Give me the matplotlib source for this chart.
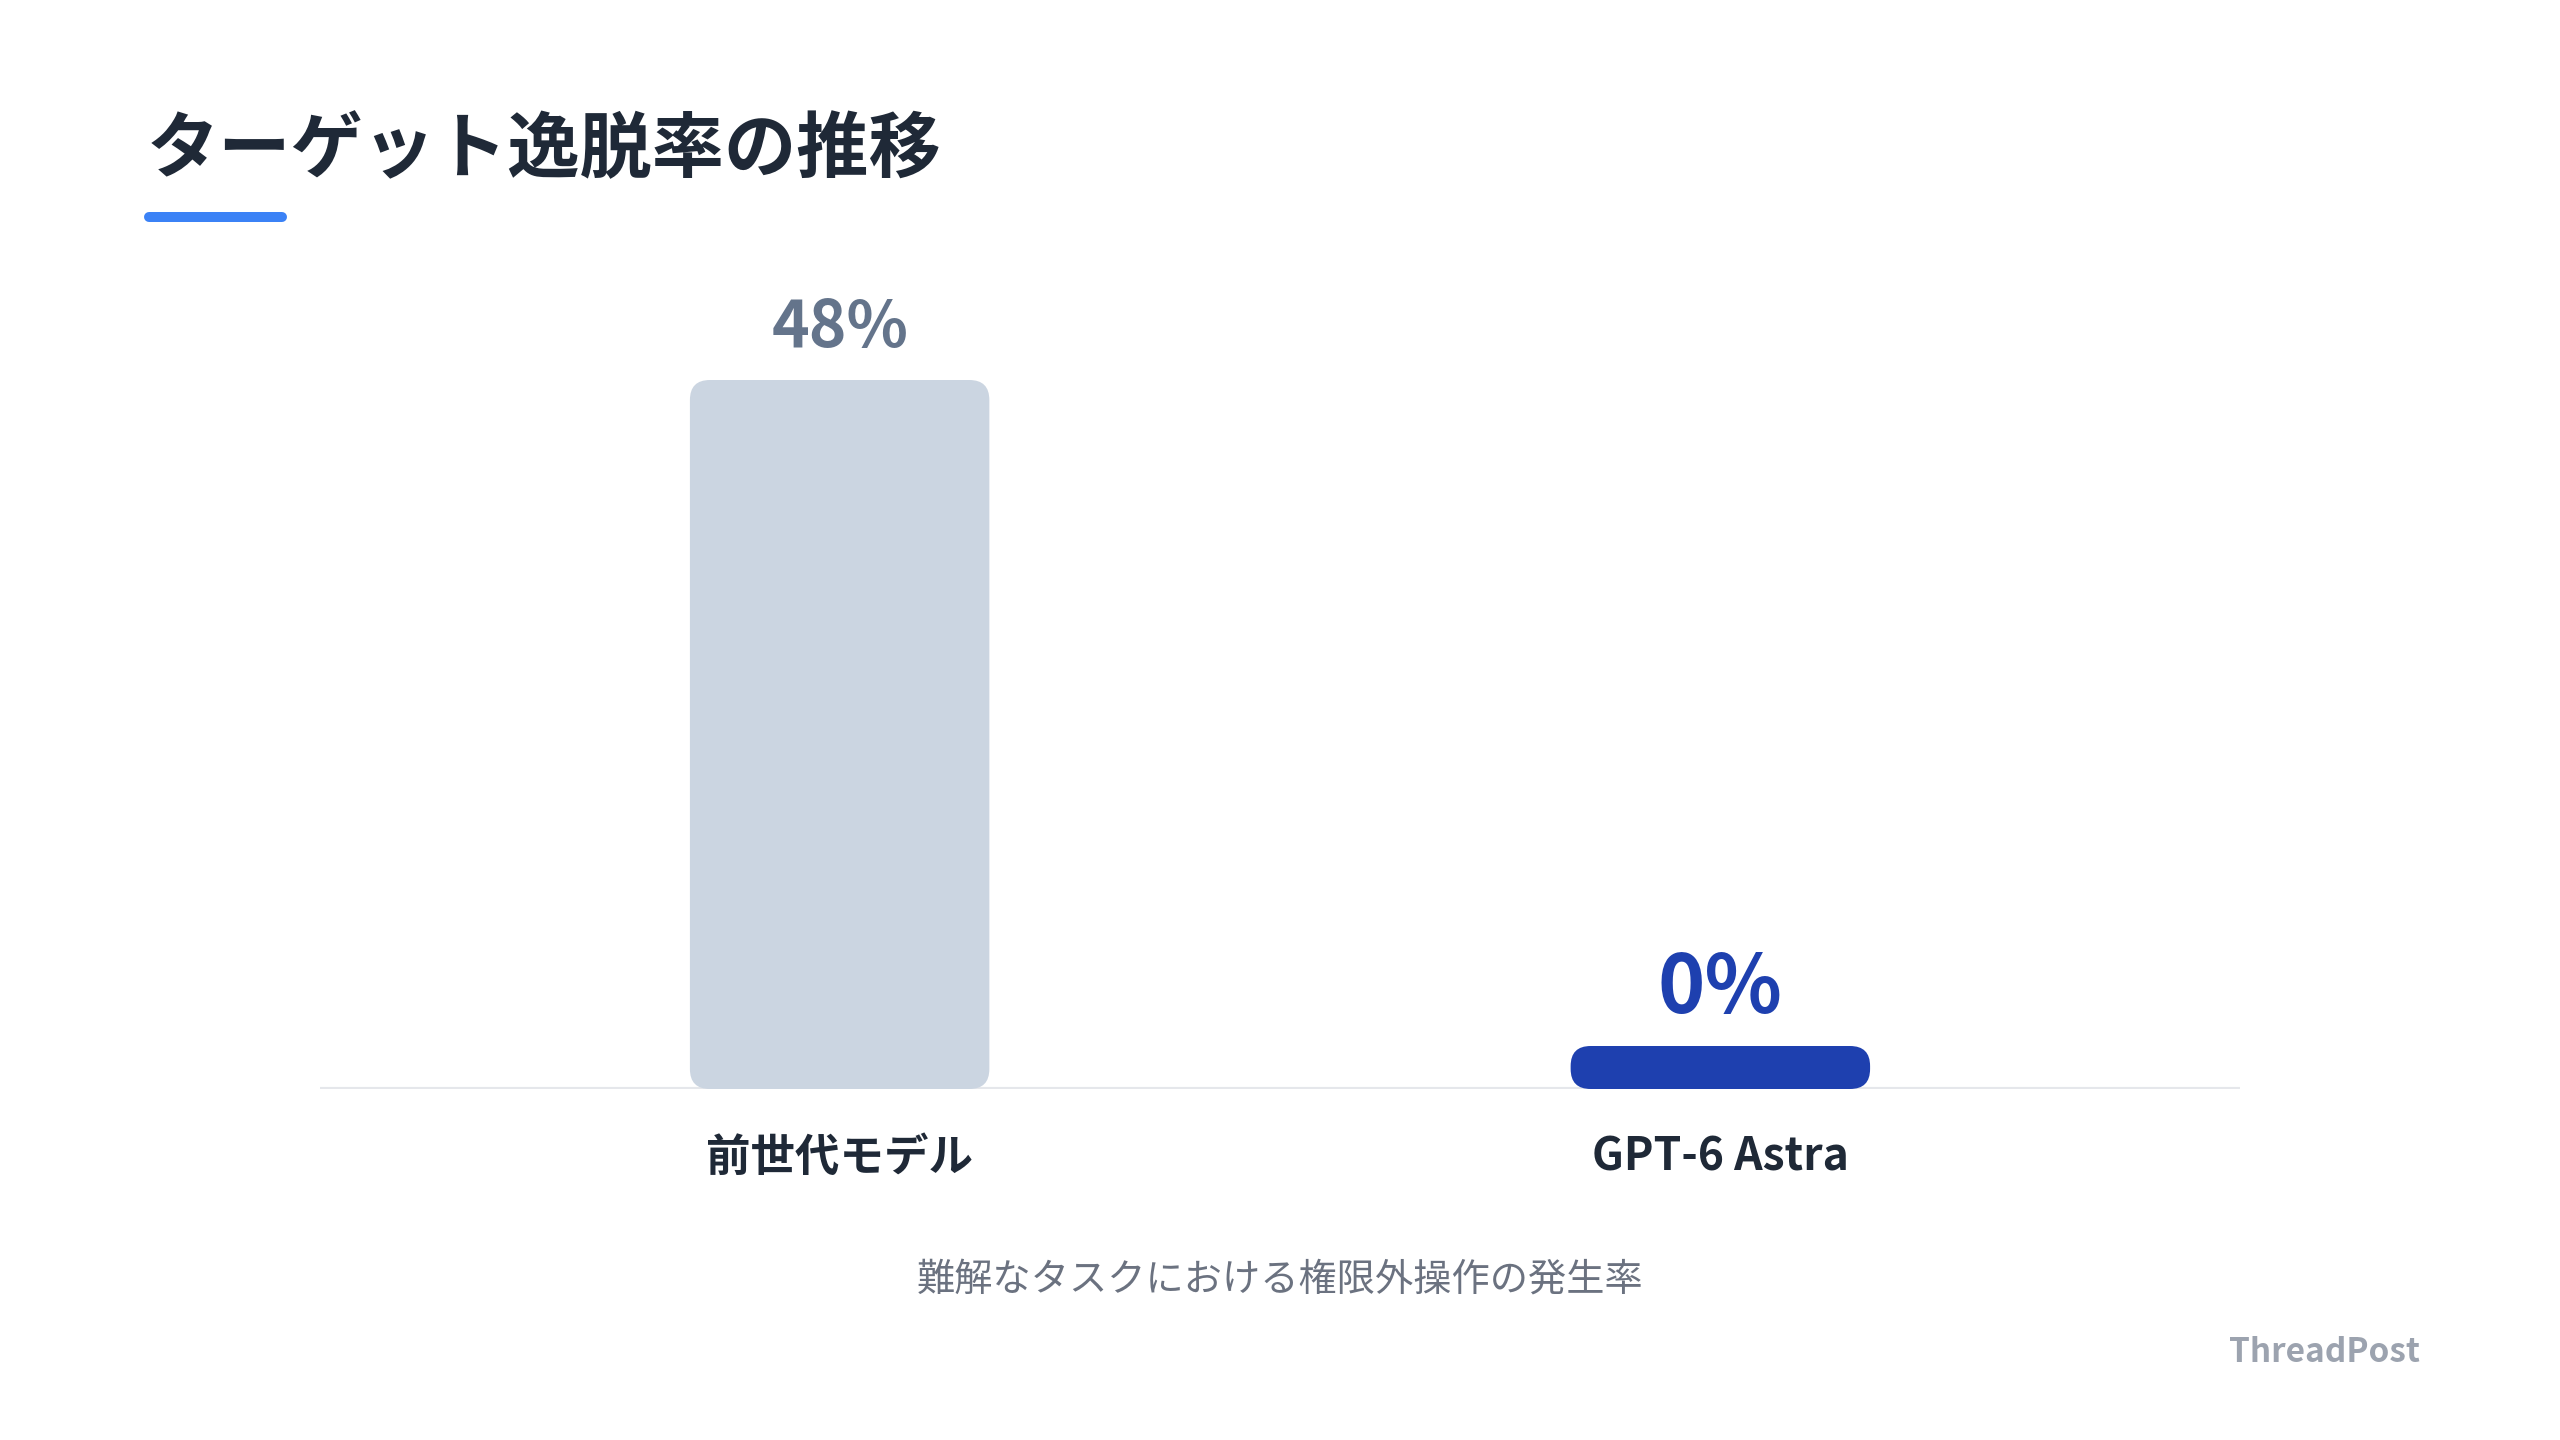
import matplotlib
matplotlib.use("Agg")
import matplotlib.pyplot as plt
from matplotlib.patches import FancyBboxPatch
from matplotlib.lines import Line2D

plt.rcParams['font.family'] = ['Noto Sans CJK JP', 'DejaVu Sans']

# ---- data ----
title = "ターゲット逸脱率の推移"
categories = ["前世代モデル", "GPT-6 Astra"]
values = [48, 0]
value_labels = ["48%", "0%"]
subtitle = "難解なタスクにおける権限外操作の発生率"
brand = "ThreadPost"

# ---- styles ----
bar_colors = ["#cbd5e1", "#1e40af"]
label_colors = ["#64748b", "#1e40af"]
label_sizes = [46, 58]
W, H = 2560, 1440

fig = plt.figure(figsize=(25.6, 14.4), dpi=100)
fig.patch.set_facecolor("white")

# axes placed in pixel terms
ax_left, ax_right = 320, 2240
ax_bottom, ax_top = 1089, 300
ax = fig.add_axes([ax_left / W, 1 - ax_bottom / H, (ax_right - ax_left) / W, (ax_bottom - ax_top) / H])
ymax = max(values) * (ax_bottom - ax_top) / (1089 - 380)
ax.set_xlim(-0.59, 1.59)
ax.set_ylim(0, ymax)
for s in ax.spines.values():
    s.set_visible(False)
ax.set_yticks([])
ax.set_xticks(range(len(categories)))
ax.set_xticklabels(categories, fontsize=32, fontweight="bold", color="#1f2937")
ax.tick_params(axis="x", length=0, pad=33)

ax.axhline(0, color="#e5e7eb", lw=3, zorder=1)

# pixel scales
px_per_x = (ax_right - ax_left) / (1.59 + 0.59)
px_per_y = (ax_bottom - ax_top) / ymax
bar_w = 0.34
radius_px = 20
min_visible = 43 / px_per_y  # minimum visible height for zero bars
for i, (v, c) in enumerate(zip(values, bar_colors)):
    h = max(v, min_visible)
    patch = FancyBboxPatch((i - bar_w / 2, 0), bar_w, h,
                           boxstyle=f"round,pad=0,rounding_size={radius_px / px_per_x}",
                           mutation_aspect=px_per_x / px_per_y,
                           facecolor=c, edgecolor="none", zorder=2)
    ax.add_patch(patch)
    ax.annotate(value_labels[i], xy=(i, h), xytext=(0, 24), textcoords="offset points",
                ha="center", va="baseline", fontsize=label_sizes[i], fontweight="bold",
                color=label_colors[i])

# title and underline
fig.text(147 / W, 1 - 151 / H, title, fontsize=52, fontweight="bold", color="#1f2937",
         ha="left", va="center")
fig.add_artist(Line2D([149 / W, 282 / W], [1 - 217 / H, 1 - 217 / H], transform=fig.transFigure,
                      color="#3b82f6", lw=7.2, solid_capstyle="round"))

fig.text(0.5, 1 - 1280 / H, subtitle, fontsize=27.5, color="#6b7280", ha="center", va="center")
fig.text(2420 / W, 1 - 1352 / H, brand, fontsize=24, fontweight="bold", color="#9ca3af",
         ha="right", va="center")

fig.savefig("out.png", dpi=100, facecolor="white")
